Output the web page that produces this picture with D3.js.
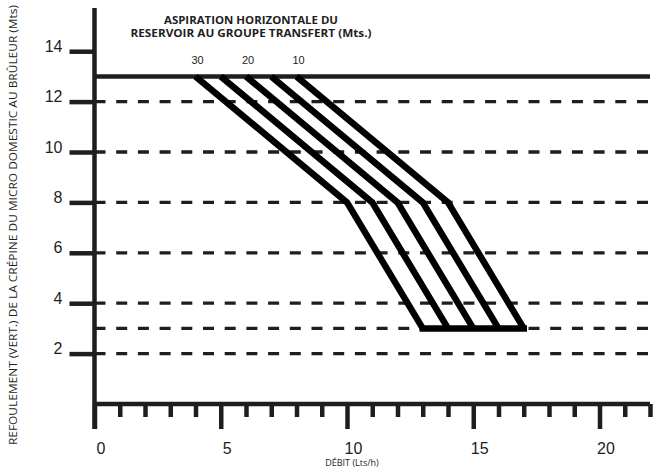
<!DOCTYPE html>
<html>
<head>
<meta charset="utf-8">
<script src="https://cdn.jsdelivr.net/npm/d3@7"></script>
<style>
  body { margin: 0; background: #fff; }
  text { fill: #1e1e1e; }
</style>
</head>
<body>
<svg id="chart" width="661" height="470"></svg>
<script>
// curves: one per horizontal aspiration length (Mts)
const aspiration = [30, 25, 20, 15, 10];
const refoulement = [13, 8, 3];          // vertical lift at each curve point
const debitTop = [4, 5, 6, 7, 8];         // flow at 13 m
const debitBend = [10, 11, 12, 13, 14];   // flow at 8 m
const debitBottom = [13, 14, 15, 16, 17]; // flow at 3 m

const labelledAspiration = [30, 20, 10];
const maxLevel = 13;
const gridLevels = [12, 10, 8, 6, 4, 3, 2];
const yTicks = [2, 4, 6, 8, 10, 12, 14];
const xMajor = [0, 5, 10, 15, 20];
const xTicks = [0, 1, 2, 3, 4, 5, 6, 7, 8, 9, 10, 11, 12, 13, 14, 15, 16, 17, 18, 19, 20, 21, 22];

const ink = '#1e1e1e';

const x = d3.scaleLinear().domain([0, 22]).range([94.5, 650]);
const y = d3.scaleLinear().domain([0, 14]).range([404, 51.2]);

const svg = d3.select('#chart');

// dashed grid lines
svg.append('g').selectAll('line')
    .data(gridLevels)
    .join('line')
    .attr('x1', x(0))
    .attr('x2', x(22))
    .attr('y1', d => y(d))
    .attr('y2', d => y(d))
    .style('stroke', ink)
    .style('stroke-width', 3.3)
    .style('stroke-dasharray', '11,10.7');

// solid line at max height
svg.append('line')
    .attr('x1', x(0))
    .attr('x2', x(22))
    .attr('y1', y(maxLevel))
    .attr('y2', y(maxLevel))
    .style('stroke', ink)
    .style('stroke-width', 4.5);

// y axis
const yAxis = svg.append('g')
    .attr('transform', 'translate(' + x(0) + ',0)')
    .call(d3.axisLeft(y).tickValues(yTicks).tickSize(25).tickFormat(d3.format('d')));
yAxis.select('.domain').remove();
yAxis.selectAll('line').style('stroke', ink).style('stroke-width', 4.5);
yAxis.selectAll('text')
    .attr('x', -32)
    .attr('dy', 0)
    .style('font-family', 'Liberation Sans, Arial, sans-serif')
    .style('font-size', '16px')
    .style('fill', ink);

svg.append('line')
    .attr('x1', x(0))
    .attr('x2', x(0))
    .attr('y1', 8)
    .attr('y2', y(0) + 25)
    .style('stroke', ink)
    .style('stroke-width', 4.5);

// x axis with minor + major ticks
const xAxisMinor = svg.append('g')
    .attr('transform', 'translate(0,' + y(0) + ')')
    .call(d3.axisBottom(x).tickValues(xTicks.filter(d => !xMajor.includes(d))).tickSize(13).tickFormat(''));
xAxisMinor.select('.domain').remove();
xAxisMinor.selectAll('line').style('stroke', ink).style('stroke-width', 4.5);

const xAxis = svg.append('g')
    .attr('transform', 'translate(0,' + y(0) + ')')
    .call(d3.axisBottom(x).tickValues(xMajor).tickSize(25).tickPadding(14).tickSizeOuter(0));
xAxis.select('.domain').style('stroke', ink).style('stroke-width', 4.5)
    .attr('d', 'M' + x(0) + ',0H' + x(22));
xAxis.selectAll('line').style('stroke', ink).style('stroke-width', 4.5);
xAxis.selectAll('text')
    .attr('dx', 6)
    .style('font-family', 'Liberation Sans, Arial, sans-serif')
    .style('font-size', '16px')
    .style('fill', ink);

// curves
const line = d3.line()
    .x(d => x(d[0]))
    .y(d => y(d[1]));

const curves = aspiration.map((a, i) => [
    [debitTop[i], refoulement[0]],
    [debitBend[i], refoulement[1]],
    [debitBottom[i], refoulement[2]]
]);

svg.append('g').selectAll('path')
    .data(curves)
    .join('path')
    .attr('d', line)
    .style('fill', 'none')
    .style('stroke', '#000')
    .style('stroke-width', 6.5)
    .style('stroke-linejoin', 'miter');

// bottom bar joining curve ends
svg.append('line')
    .attr('x1', x(d3.min(debitBottom)))
    .attr('x2', x(d3.max(debitBottom)))
    .attr('y1', y(refoulement[2]))
    .attr('y2', y(refoulement[2]))
    .style('stroke', '#000')
    .style('stroke-width', 6.5)
    .style('stroke-linecap', 'square');

// aspiration labels above curve starts
svg.append('g').selectAll('text')
    .data(labelledAspiration)
    .join('text')
    .attr('x', d => x(debitTop[aspiration.indexOf(d)]) + 2)
    .attr('y', 64)
    .attr('text-anchor', 'middle')
    .style('font-family', 'Liberation Sans, Arial, sans-serif')
    .style('font-size', '11px')
    .text(d => d);

// titles
const title = svg.append('text')
    .attr('text-anchor', 'middle')
    .style('font-family', 'Open Sans, sans-serif')
    .style('font-weight', 'bold')
    .style('font-size', '11px');
title.append('tspan').attr('x', 251).attr('y', 24)
    .attr('textLength', 174).attr('lengthAdjust', 'spacingAndGlyphs')
    .text('ASPIRATION HORIZONTALE DU');
title.append('tspan').attr('x', 251).attr('y', 37)
    .attr('textLength', 241).attr('lengthAdjust', 'spacingAndGlyphs')
    .text('RESERVOIR AU GROUPE TRANSFERT (Mts.)');

svg.append('text')
    .attr('x', 352)
    .attr('y', 466)
    .attr('text-anchor', 'middle')
    .style('font-family', 'Open Sans, sans-serif')
    .style('font-size', '9px')
    .text('DÉBIT (Lts/h)');

svg.append('text')
    .attr('transform', 'translate(17,225) rotate(-90)')
    .attr('text-anchor', 'middle')
    .attr('textLength', 440)
    .attr('lengthAdjust', 'spacingAndGlyphs')
    .style('font-family', 'Open Sans, sans-serif')
    .style('font-size', '11.5px')
    .text('REFOULEMENT (VERT.) DE LA CRÉPINE DU MICRO DOMESTIC AU BRÛLEUR (Mts)');
</script>
</body>
</html>
